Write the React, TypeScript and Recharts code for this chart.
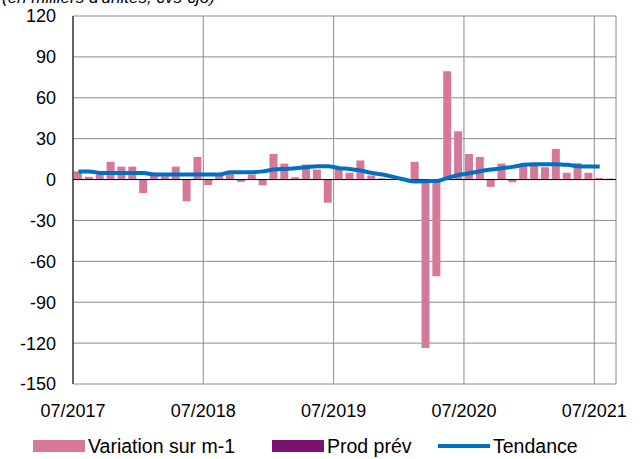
import {
  ComposedChart,
  Bar,
  Line,
  XAxis,
  YAxis,
  CartesianGrid,
  ReferenceLine,
} from "recharts";

const months = [
  "07/2017", "08/2017", "09/2017", "10/2017", "11/2017", "12/2017",
  "01/2018", "02/2018", "03/2018", "04/2018", "05/2018", "06/2018",
  "07/2018", "08/2018", "09/2018", "10/2018", "11/2018", "12/2018",
  "01/2019", "02/2019", "03/2019", "04/2019", "05/2019", "06/2019",
  "07/2019", "08/2019", "09/2019", "10/2019", "11/2019", "12/2019",
  "01/2020", "02/2020", "03/2020", "04/2020", "05/2020", "06/2020",
  "07/2020", "08/2020", "09/2020", "10/2020", "11/2020", "12/2020",
  "01/2021", "02/2021", "03/2021", "04/2021", "05/2021", "06/2021",
  "07/2021", "08/2021",
];

// variation sur m-1 (pink bars)
const variation = [
  6, 2, 4, 13, 9.5, 9.5, -10, 3, 2.5, 9.5, -16, 16.6,
  -4, 3, 4, -1.7, 3.7, -4.2, 18.8, 11.7, 1.7, 11, 7.3, -17,
  8, 5, 14, 3, 1, 0.5, -0.5, 13, -123.5, -71, 79.5, 35.4,
  18.8, 16.6, -5.4, 11.7, -2, 11.7, 10, 9, 22.5, 5, 12, 5,
  1.2, null,
];

// production prévue (purple, last month only)
const prodPrev = [
  null, null, null, null, null, null, null, null, null, null, null, null,
  null, null, null, null, null, null, null, null, null, null, null, null,
  null, null, null, null, null, null, null, null, null, null, null, null,
  null, null, null, null, null, null, null, null, null, null, null, null,
  null, 0.6,
];

// tendance (blue line)
const tendance = [
  5.9, 6, 4.9, 4.9, 4.9, 4.9, 4.9, 3.7, 3.7, 3.7, 3.7, 3.7,
  3.7, 3.7, 5.4, 5.4, 5.4, 6, 7.3, 7.8, 8.3, 9, 9.8, 9.8,
  8.3, 7.8, 6.6, 4.9, 3.7, 2, 0, -1.5, -1.2, -1, 1.2, 3.4,
  4.6, 6.1, 7.3, 8.3, 9.3, 10.8, 11.3, 11.3, 11.3, 10.8, 9.8, 9.5,
  9.5, null,
];

const yTicks = [-150, -120, -90, -60, -30, 0, 30, 60, 90, 120];
const xTicks = [0, 12, 24, 36, 48];

const PINK = "#D6779C";
const PURPLE = "#7A136F";
const BLUE = "#0070C0";

const data = months.map((m, i) => ({
  x: i + 0.5,
  month: m,
  variation: variation[i],
  prodPrev: prodPrev[i],
  tendance: tendance[i],
}));

const font = "Arial, 'Liberation Sans', sans-serif";

function LegendItem({ left, color, line, label }: { left: number; color: string; line?: boolean; label: string }) {
  return (
    <div
      style={{
        position: "absolute",
        left,
        top: 0,
        display: "flex",
        alignItems: "center",
        height: 22,
      }}
    >
      <span style={{ width: 52, height: line ? 4 : 12, background: color, marginRight: 3 }} />
      <span>{label}</span>
    </div>
  );
}

function ChartLegend() {
  return (
    <div
      style={{
        position: "absolute",
        top: 435,
        left: 0,
        width: 640,
        height: 22,
        fontFamily: font,
        fontSize: 19.5,
        lineHeight: "22px",
        color: "#000",
        whiteSpace: "nowrap",
      }}
    >
      <LegendItem left={33} color={PINK} label="Variation sur m-1" />
      <LegendItem left={272} color={PURPLE} label="Prod prév" />
      <LegendItem left={438} color={BLUE} line label="Tendance" />
    </div>
  );
}

export default function App() {
  return (
    <div
      style={{
        position: "fixed",
        top: 0,
        left: 0,
        width: 640,
        height: 459,
        background: "#fff",
        overflow: "hidden",
      }}
    >
      <div
        style={{
          position: "absolute",
          top: -12,
          left: 2,
          fontFamily: font,
          fontSize: 17,
          fontStyle: "italic",
          color: "#000",
          whiteSpace: "nowrap",
        }}
      >
        (en milliers d'unités, cvs-cjo)
      </div>
      <ComposedChart
        width={640}
        height={459}
        data={data}
        margin={{ top: 16, right: 24, left: 0, bottom: 0 }}
        style={{ fontFamily: font }}
      >
        <CartesianGrid stroke="#8c8c8c" strokeWidth={1} />
        <XAxis
          type="number"
          dataKey="x"
          domain={[0, 50]}
          ticks={xTicks}
          interval={0}
          tickFormatter={(v: number) => months[v]}
          axisLine={false}
          tickLine={false}
          tickSize={0}
          tickMargin={20}
          height={75}
          tick={{ fill: "#000", fontSize: 18 }}
        />
        <YAxis
          domain={[-150, 120]}
          ticks={yTicks}
          interval={0}
          width={73}
          axisLine={{ stroke: "#000" }}
          tickLine={false}
          tickSize={0}
          tickMargin={17}
          tick={{ fill: "#000", fontSize: 18 }}
        />
        <ReferenceLine y={0} stroke="#000" strokeWidth={1} />
        <Bar
          dataKey="variation"
          stackId="a"
          fill={PINK}
          barSize={8}
          isAnimationActive={false}
        />
        <Bar
          dataKey="prodPrev"
          stackId="a"
          fill={PURPLE}
          barSize={8}
          isAnimationActive={false}
        />
        <Line
          type="monotone"
          dataKey="tendance"
          stroke={BLUE}
          strokeWidth={4}
          dot={false}
          isAnimationActive={false}
        />
      </ComposedChart>
      <ChartLegend />
    </div>
  );
}
